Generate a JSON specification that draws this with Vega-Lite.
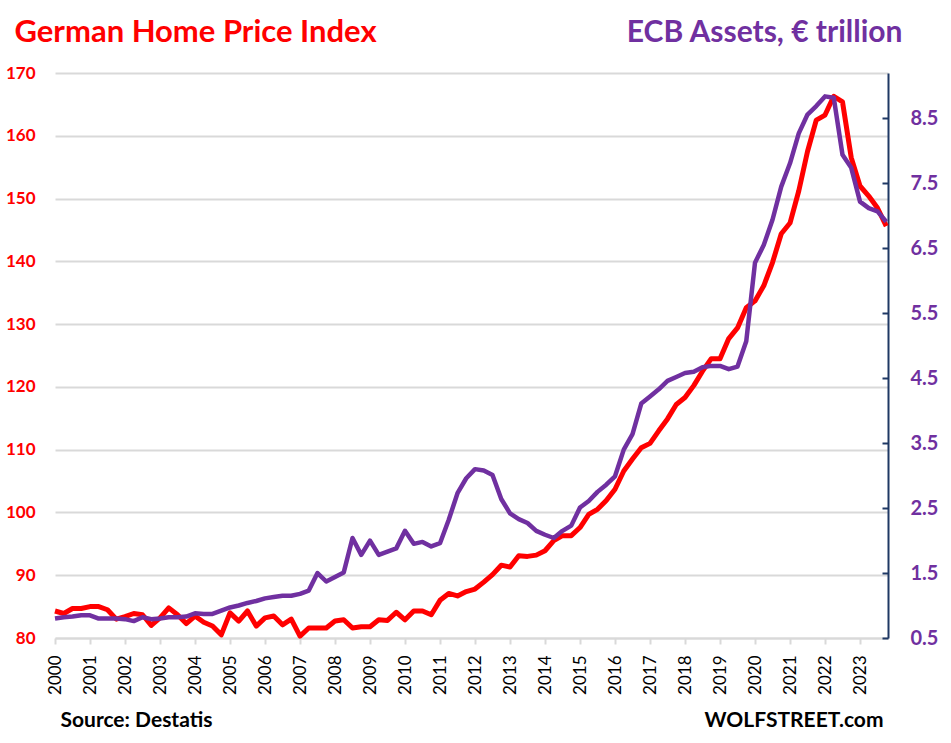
{
  "$schema": "https://vega.github.io/schema/vega-lite/v6.json",
  "width": 833,
  "height": 565,
  "autosize": "none",
  "padding": {"left": 55, "top": 73, "right": 63, "bottom": 105},
  "background": "white",
  "config": {"font": "Lato", "view": {"stroke": null}},
  "data": {"values": [
    {"t": 2000, "hpi": 84.3, "ecb": 0.80}, {"t": 2000.25, "hpi": 83.9, "ecb": 0.82}, {"t": 2000.5, "hpi": 84.7, "ecb": 0.83}, {"t": 2000.75, "hpi": 84.7, "ecb": 0.85},
    {"t": 2001, "hpi": 85.0, "ecb": 0.85}, {"t": 2001.25, "hpi": 85.0, "ecb": 0.80}, {"t": 2001.5, "hpi": 84.5, "ecb": 0.80}, {"t": 2001.75, "hpi": 83.0, "ecb": 0.80},
    {"t": 2002, "hpi": 83.4, "ecb": 0.79}, {"t": 2002.25, "hpi": 83.9, "ecb": 0.76}, {"t": 2002.5, "hpi": 83.7, "ecb": 0.82}, {"t": 2002.75, "hpi": 82.0, "ecb": 0.79},
    {"t": 2003, "hpi": 83.2, "ecb": 0.80}, {"t": 2003.25, "hpi": 84.8, "ecb": 0.82}, {"t": 2003.5, "hpi": 83.7, "ecb": 0.82}, {"t": 2003.75, "hpi": 82.3, "ecb": 0.83},
    {"t": 2004, "hpi": 83.5, "ecb": 0.88}, {"t": 2004.25, "hpi": 82.5, "ecb": 0.87}, {"t": 2004.5, "hpi": 81.9, "ecb": 0.87}, {"t": 2004.75, "hpi": 80.5, "ecb": 0.92},
    {"t": 2005, "hpi": 84.0, "ecb": 0.97}, {"t": 2005.25, "hpi": 82.7, "ecb": 1.00}, {"t": 2005.5, "hpi": 84.3, "ecb": 1.04}, {"t": 2005.75, "hpi": 81.9, "ecb": 1.07},
    {"t": 2006, "hpi": 83.2, "ecb": 1.11}, {"t": 2006.25, "hpi": 83.5, "ecb": 1.13}, {"t": 2006.5, "hpi": 82.1, "ecb": 1.15}, {"t": 2006.75, "hpi": 83.0, "ecb": 1.15},
    {"t": 2007, "hpi": 80.3, "ecb": 1.18}, {"t": 2007.25, "hpi": 81.6, "ecb": 1.23}, {"t": 2007.5, "hpi": 81.6, "ecb": 1.50}, {"t": 2007.75, "hpi": 81.6, "ecb": 1.37},
    {"t": 2008, "hpi": 82.7, "ecb": 1.44}, {"t": 2008.25, "hpi": 82.9, "ecb": 1.51}, {"t": 2008.5, "hpi": 81.6, "ecb": 2.04}, {"t": 2008.75, "hpi": 81.8, "ecb": 1.78},
    {"t": 2009, "hpi": 81.8, "ecb": 2.00}, {"t": 2009.25, "hpi": 82.9, "ecb": 1.78}, {"t": 2009.5, "hpi": 82.8, "ecb": 1.83}, {"t": 2009.75, "hpi": 84.1, "ecb": 1.88},
    {"t": 2010, "hpi": 82.9, "ecb": 2.15}, {"t": 2010.25, "hpi": 84.3, "ecb": 1.95}, {"t": 2010.5, "hpi": 84.3, "ecb": 1.98}, {"t": 2010.75, "hpi": 83.7, "ecb": 1.91},
    {"t": 2011, "hpi": 86.0, "ecb": 1.96}, {"t": 2011.25, "hpi": 87.1, "ecb": 2.32}, {"t": 2011.5, "hpi": 86.7, "ecb": 2.73}, {"t": 2011.75, "hpi": 87.4, "ecb": 2.96},
    {"t": 2012, "hpi": 87.8, "ecb": 3.10}, {"t": 2012.25, "hpi": 88.9, "ecb": 3.08}, {"t": 2012.5, "hpi": 90.1, "ecb": 3.01}, {"t": 2012.75, "hpi": 91.6, "ecb": 2.64},
    {"t": 2013, "hpi": 91.3, "ecb": 2.42}, {"t": 2013.25, "hpi": 93.1, "ecb": 2.33}, {"t": 2013.5, "hpi": 93.0, "ecb": 2.27}, {"t": 2013.75, "hpi": 93.2, "ecb": 2.15},
    {"t": 2014, "hpi": 93.9, "ecb": 2.09}, {"t": 2014.25, "hpi": 95.5, "ecb": 2.04}, {"t": 2014.5, "hpi": 96.3, "ecb": 2.15}, {"t": 2014.75, "hpi": 96.3, "ecb": 2.23},
    {"t": 2015, "hpi": 97.6, "ecb": 2.51}, {"t": 2015.25, "hpi": 99.7, "ecb": 2.61}, {"t": 2015.5, "hpi": 100.5, "ecb": 2.75}, {"t": 2015.75, "hpi": 101.9, "ecb": 2.86},
    {"t": 2016, "hpi": 103.7, "ecb": 2.99}, {"t": 2016.25, "hpi": 106.6, "ecb": 3.40}, {"t": 2016.5, "hpi": 108.5, "ecb": 3.64}, {"t": 2016.75, "hpi": 110.3, "ecb": 4.11},
    {"t": 2017, "hpi": 111.0, "ecb": 4.22}, {"t": 2017.25, "hpi": 113.0, "ecb": 4.33}, {"t": 2017.5, "hpi": 114.9, "ecb": 4.46}, {"t": 2017.75, "hpi": 117.2, "ecb": 4.52},
    {"t": 2018, "hpi": 118.3, "ecb": 4.58}, {"t": 2018.25, "hpi": 120.2, "ecb": 4.60}, {"t": 2018.5, "hpi": 122.5, "ecb": 4.67}, {"t": 2018.75, "hpi": 124.5, "ecb": 4.69},
    {"t": 2019, "hpi": 124.5, "ecb": 4.69}, {"t": 2019.25, "hpi": 127.7, "ecb": 4.64}, {"t": 2019.5, "hpi": 129.4, "ecb": 4.68}, {"t": 2019.75, "hpi": 132.6, "ecb": 5.07},
    {"t": 2020, "hpi": 133.7, "ecb": 6.28}, {"t": 2020.25, "hpi": 136.1, "ecb": 6.55}, {"t": 2020.5, "hpi": 139.8, "ecb": 6.94}, {"t": 2020.75, "hpi": 144.4, "ecb": 7.45},
    {"t": 2021, "hpi": 146.1, "ecb": 7.81}, {"t": 2021.25, "hpi": 151.2, "ecb": 8.27}, {"t": 2021.5, "hpi": 157.5, "ecb": 8.56}, {"t": 2021.75, "hpi": 162.5, "ecb": 8.69},
    {"t": 2022, "hpi": 163.3, "ecb": 8.84}, {"t": 2022.25, "hpi": 166.3, "ecb": 8.82}, {"t": 2022.5, "hpi": 165.4, "ecb": 7.94}, {"t": 2022.75, "hpi": 156.5, "ecb": 7.74},
    {"t": 2023, "hpi": 152.0, "ecb": 7.22}, {"t": 2023.25, "hpi": 150.4, "ecb": 7.12}, {"t": 2023.5, "hpi": 148.5, "ecb": 7.07}, {"t": 2023.75, "hpi": 145.6, "ecb": 6.91}
  ]},
  "layer": [
    {
      "mark": {"type": "line", "color": "#FF0000", "strokeWidth": 5, "strokeJoin": "round"},
      "encoding": {
        "x": {
          "field": "t", "type": "quantitative",
          "scale": {"domain": [2000, 2023.8], "nice": false, "zero": false},
          "axis": {
            "orient": "bottom",
            "values": [2000, 2001, 2002, 2003, 2004, 2005, 2006, 2007, 2008, 2009, 2010, 2011, 2012, 2013, 2014, 2015, 2016, 2017, 2018, 2019, 2020, 2021, 2022, 2023],
            "format": "d", "labelAngle": -90, "labelAlign": "right", "labelBaseline": "middle",
            "labelFontSize": 17, "labelColor": "#000000", "labelPadding": 11, "labelFlush": false, "labelOverlap": false,
            "tickSize": 6, "tickColor": "#D9D9D9", "tickWidth": 2,
            "domainColor": "#D9D9D9", "domainWidth": 2, "grid": false,
            "title": "Source: Destatis", "titleX": 5, "titleY": 88, "titleAlign": "left", "titleBaseline": "alphabetic",
            "titleFontSize": 21, "titleFontWeight": "bold", "titleColor": "#000000"
          }
        },
        "y": {
          "field": "hpi", "type": "quantitative",
          "scale": {"domain": [80, 170], "nice": false, "zero": false},
          "axis": {
            "values": [80, 90, 100, 110, 120, 130, 140, 150, 160, 170],
            "labelColor": "#FF0000", "labelFontSize": 17, "labelFontWeight": "bold", "labelPadding": 20, "labelFlush": false,
            "ticks": false, "domain": false, "grid": true, "gridColor": "#D9D9D9", "gridWidth": 2,
            "title": "German Home Price Index", "titleAngle": 0, "titleX": -41, "titleY": -31.5,
            "titleAlign": "left", "titleBaseline": "alphabetic", "titleColor": "#FF0000", "titleFontSize": 31, "titleFontWeight": "bold"
          }
        }
      }
    },
    {
      "mark": {"type": "line", "color": "#7030A0", "strokeWidth": 4.5, "strokeJoin": "round"},
      "encoding": {
        "x": {
          "field": "t", "type": "quantitative",
          "scale": {"domain": [2000, 2023.8], "nice": false, "zero": false},
          "axis": {
            "orient": "bottom", "labels": false, "ticks": false, "domain": false, "grid": false,
            "title": "WOLFSTREET.com", "titleX": 828, "titleY": 88, "titleAlign": "right", "titleBaseline": "alphabetic",
            "titleFontSize": 21, "titleFontWeight": "bold", "titleColor": "#000000"
          }
        },
        "y": {
          "field": "ecb", "type": "quantitative",
          "scale": {"domain": [0.5, 9.2], "nice": false, "zero": false},
          "axis": {
            "orient": "right",
            "values": [0.5, 1.5, 2.5, 3.5, 4.5, 5.5, 6.5, 7.5, 8.5], "format": ".1f",
            "labelColor": "#7030A0", "labelFontSize": 20, "labelFontWeight": "bold", "labelPadding": 28, "labelFlush": false,
            "tickSize": -6, "tickColor": "#1F3864", "tickWidth": 2,
            "domainColor": "#1F3864", "domainWidth": 2, "grid": false,
            "title": "ECB Assets, € trillion", "titleAngle": 0, "titleX": 14, "titleY": -31.5,
            "titleAlign": "right", "titleBaseline": "alphabetic", "titleColor": "#7030A0", "titleFontSize": 30, "titleFontWeight": "bold"
          }
        }
      }
    }
  ],
  "resolve": {"scale": {"y": "independent"}, "axis": {"x": "independent"}}
}
